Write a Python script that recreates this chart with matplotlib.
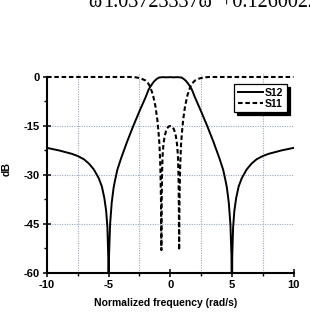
import matplotlib
matplotlib.use("Agg")
from matplotlib import pyplot as plt
from matplotlib.ticker import MultipleLocator

# S12 (transmission), dB vs normalized frequency
s12_x = [-10, -9, -8, -7.5, -7, -6.6, -6.2, -5.8, -5.55, -5.35, -5.2, -5.1, -5.03, -5.0,
         -4.97, -4.88, -4.75, -4.6, -4.5, -4.3, -4.0, -3.5, -3.0, -2.5, -2.0, -1.75, -1.5,
         -1.3, -1.1, -0.9, -0.6, -0.3, 0, 0.3, 0.6, 0.9, 1.1, 1.3, 1.5, 1.75, 2.0, 2.5, 3.0,
         3.5, 4.0, 4.3, 4.5, 4.6, 4.75, 4.88, 4.97, 5.0, 5.03, 5.1, 5.2, 5.35, 5.55, 5.8,
         6.2, 6.6, 7, 7.5, 8, 9, 10]
s12_db = [-21.7, -22.5, -23.5, -24.2, -25.2, -26.5, -28.3, -31.0, -33.5, -37, -41, -46, -55, -80,
          -55, -45, -38.5, -34, -32, -28.5, -25, -19.8, -15, -10.5, -6.2, -3.8, -2.3,
          -1.3, -0.6, -0.15, -0.05, -0.1, -0.05, -0.1, -0.05, -0.15, -0.6, -1.3, -2.3, -3.8, -6.2, -10.5, -15,
          -19.8, -25, -28.5, -32, -34, -38.5, -45, -55, -80, -55, -46, -41, -37, -33.5, -31.0,
          -28.3, -26.5, -25.2, -24.2, -23.5, -22.5, -21.7]

# S11 (reflection)
s11_x = [-10, -3.2, -2.8, -2.4, -2.0, -1.8, -1.63, -1.4, -1.2, -1.05, -0.95, -0.87, -0.8,
         -0.75, -0.72, -0.70, -0.67, -0.62, -0.55, -0.45, -0.3, -0.15, 0,
         0.15, 0.3, 0.45, 0.55, 0.62, 0.67, 0.70, 0.72, 0.75, 0.8, 0.87, 0.95, 1.05,
         1.2, 1.4, 1.63, 1.8, 2.0, 2.4, 2.8, 3.2, 10]
s11_db = [0, 0, -0.1, -0.4, -1.1, -1.9, -3.0, -5.5, -9, -13, -17, -21, -28,
          -38, -53, -40, -30, -24, -20.5, -18, -16, -15.2, -15,
          -15.2, -16, -18, -20.5, -24, -30, -40, -53, -38, -28, -21, -17, -13,
          -9, -5.5, -3.0, -1.9, -1.1, -0.4, -0.1, 0, 0]

x_ticks = [-10, -5, 0, 5, 10]
y_ticks = [0, -15, -30, -45, -60]

sans = ['Liberation Sans', 'DejaVu Sans']
serif = ['Liberation Serif', 'DejaVu Serif']

fig = plt.figure(figsize=(3.10, 3.14), dpi=100)
ax = fig.add_axes([47 / 310, 1 - 273 / 314, 246.5 / 310, 199.27 / 314])

# clipped equation line from the page above the figure
fig.text(88 / 310, 1 - 7.3 / 314, 'ω', family=serif, fontsize=14.5, va='baseline')
fig.text(103 / 310, 1 - 7.3 / 314, '1.03723337ω', family=serif, fontsize=14.5, va='baseline')
fig.text(221 / 310, 1 - 7.3 / 314, '+0.126002235', family=serif, fontsize=14.5, va='baseline')

ax.plot(s12_x, s12_db, color='black', linewidth=1.4, label='S12')
ax.plot(s11_x, s11_db, color='black', linewidth=1.5, linestyle=(0, (2.2, 1.3)), label='S11')

ax.set_xlim(-10, 10)
ax.set_ylim(-60, 1)
ax.set_xticks(x_ticks)
ax.set_yticks(y_ticks)
ax.xaxis.set_minor_locator(MultipleLocator(2.5))
ax.yaxis.set_minor_locator(MultipleLocator(7.5))
ax.set_xticklabels([str(v) for v in x_ticks], family=sans, fontweight='bold', fontsize=8)
ax.set_yticklabels([str(v) for v in y_ticks], family=sans, fontweight='bold', fontsize=8)

# grid: vertical at minor x, horizontal at major y
for xv in [-7.5, -2.5, 2.5, 7.5]:
    ax.axvline(xv, color='#9aa8c8', linestyle=(0, (1, 1.2)), linewidth=0.8, zorder=0)
for yv in [-15, -30, -45]:
    ax.axhline(yv, color='#9aa8c8', linestyle=(0, (1, 1.2)), linewidth=0.8, zorder=0)

ax.spines['top'].set_visible(False)
ax.spines['right'].set_visible(False)
ax.spines['left'].set_linewidth(1.5)
ax.spines['bottom'].set_linewidth(1.5)
ax.spines['left'].set_bounds(-60, 0)
ax.tick_params(which='major', direction='inout', length=6, width=1.1, pad=2)
ax.tick_params(which='minor', direction='out', length=2.5, width=1.0)

ax.set_xlabel('Normalized frequency (rad/s)', family=sans, fontweight='bold', fontsize=7.5)
ax.set_ylabel('dB', family=sans, fontweight='bold', fontsize=7.5)
ax.xaxis.set_label_coords(0.48, -0.125)
ax.yaxis.set_label_coords(-0.142, 0.52)

leg = ax.legend(loc='upper right', bbox_to_anchor=(0.974, 0.948), borderaxespad=0,
                prop={'family': sans, 'weight': 'bold', 'size': 7.5},
                fancybox=False, shadow={'color': 'black', 'alpha': 1.0},
                handlelength=2.4, handletextpad=0.2, labelspacing=0.1, borderpad=0.35)
leg.get_frame().set_edgecolor('black')
leg.get_frame().set_linewidth(0.9)

fig.savefig('out.png', dpi=100)
